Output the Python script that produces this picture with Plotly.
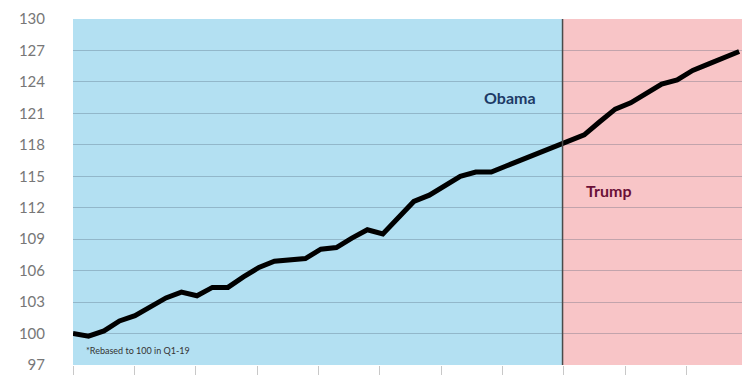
import plotly.graph_objects as go

# Quarterly index (rebased to 100), quarter number from start
quarters = list(range(44))
values = [100.0, 99.75, 100.25, 101.2, 101.7, 102.6, 103.4, 103.95, 103.6, 104.4,
          104.4, 105.4, 106.3, 106.9, 107.05, 107.15, 108.05, 108.2, 109.1, 109.9,
          109.5, 111.1, 112.6, 113.2, 114.1, 115.0, 115.4, 115.4, 116.0, 116.6,
          117.1, 117.7, 118.3, 118.95, 120.2, 121.4, 122.0, 122.9, 123.8, 124.2,
          125.1, 125.7, 126.3, 126.9]
term_change = 31.6          # quarter where the presidency changes
x_end = 43.7                # end of the x range
y_ticks = [97, 100, 103, 106, 109, 112, 115, 118, 121, 124, 127, 130]
obama_label = "Obama"
trump_label = "Trump"
footnote = "*Rebased to 100 in Q1-19"

fig = go.Figure()
fig.add_trace(go.Scatter(x=quarters, y=values, mode="lines",
                         line=dict(color="#000000", width=5),
                         hoverinfo="skip", showlegend=False))

fig.add_shape(type="rect", xref="x", yref="paper", x0=0, x1=term_change, y0=0, y1=1,
              fillcolor="#b3e0f2", line_width=0, layer="below")
fig.add_shape(type="rect", xref="x", yref="paper", x0=term_change, x1=x_end, y0=0, y1=1,
              fillcolor="#f8c5c7", line_width=0, layer="below")
fig.add_shape(type="line", xref="x", yref="paper", x0=term_change, x1=term_change, y0=0, y1=1,
              line=dict(color="#4a4a4a", width=1.5), layer="above")

fig.add_annotation(x=26.4, y=122.5, text="<b>" + obama_label + "</b>", showarrow=False,
                   xanchor="left", yanchor="middle",
                   font=dict(family="Lato", size=16, color="#1d3a66"))
fig.add_annotation(x=33.0, y=113.6, text="<b>" + trump_label + "</b>", showarrow=False,
                   xanchor="left", yanchor="middle",
                   font=dict(family="Lato", size=16, color="#6a1038"))
fig.add_annotation(x=0.7, y=98.4, text=footnote, showarrow=False,
                   xanchor="left", yanchor="middle",
                   font=dict(family="Lato", size=9, color="#333333"))

# page body has an 8px default margin, so the figure is sized to fill the window
fig.update_layout(
    width=742, height=367,
    margin=dict(l=65, r=0, t=11, b=10),
    plot_bgcolor="white", paper_bgcolor="white",
    showlegend=False,
    font=dict(family="Lato", color="#777777"),
)
fig.update_xaxes(range=[0, x_end], showgrid=False, zeroline=False,
                 showticklabels=False, ticks="outside", ticklen=10,
                 tickcolor="#c8c8c8", tickwidth=1, tick0=0, dtick=3.96,
                 showline=False, fixedrange=True, automargin=False)
fig.update_yaxes(range=[97, 130], tickvals=y_ticks, ticktext=[str(v) for v in y_ticks],
                 showgrid=True, gridcolor="rgba(70,90,110,0.3)", gridwidth=1,
                 zeroline=False, showline=False, ticks="",
                 ticklabelstandoff=27,
                 tickfont=dict(family="Lato", size=15, color="#777777"),
                 fixedrange=True, automargin=False)

fig.write_html("out.html", config={"displayModeBar": False})
